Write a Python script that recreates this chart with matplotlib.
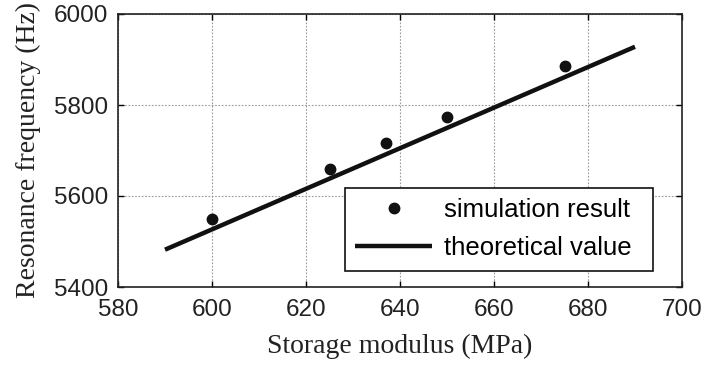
import numpy as np
import matplotlib
matplotlib.use("Agg")
import matplotlib.pyplot as plt

# simulation points
modulus_sim = [600, 625, 637, 650, 675]
freq_sim = [5549, 5659, 5717, 5774, 5885]

# theoretical line end points
modulus_theory = [590, 690]
freq_theory = [5482, 5928]

x_ticks = [580, 600, 620, 640, 660, 680, 700]
y_ticks = [5400, 5600, 5800, 6000]

fig = plt.figure(figsize=(7.04, 3.65), dpi=100)
ax = fig.add_axes([118 / 704, 1 - 287 / 365, 564 / 704, 273 / 365])

ax.plot(modulus_theory, freq_theory, color="#111111", linewidth=3.2,
        solid_capstyle="butt", label="theoretical value", zorder=3)
ax.plot(modulus_sim, freq_sim, "o", color="#111111", markersize=7.5,
        label="simulation result", zorder=4)

ax.set_xlim(580, 700)
ax.set_ylim(5400, 6000)
ax.set_xticks(x_ticks)
ax.set_yticks(y_ticks)
ax.grid(True, color="#999999", linestyle=(0, (1.5, 1.5)), linewidth=0.8)
ax.tick_params(direction="in", top=True, right=True, length=4, width=1,
               labelsize=17.5)
ax.tick_params(axis="x", pad=9)
ax.tick_params(axis="y", pad=7)
for lab in ax.get_xticklabels() + ax.get_yticklabels():
    lab.set_family("Liberation Sans")
    lab.set_color("#222222")
for sp in ax.spines.values():
    sp.set_linewidth(1.2)
    sp.set_color("#222222")

ax.set_xlabel("Storage modulus (MPa)", family="Liberation Serif", fontsize=20,
              labelpad=9, color="#222222")
ax.set_ylabel("Resonance frequency (Hz)", family="Liberation Serif", fontsize=20,
              labelpad=9, color="#222222")

handles, labels = ax.get_legend_handles_labels()
leg = ax.legend(handles[::-1], labels[::-1], loc="lower left",
                bbox_to_anchor=(0.402, 0.06, 0.546, 0.3065), mode="expand",
                prop={"family": "Liberation Sans", "size": 18.5},
                fancybox=False, framealpha=1, edgecolor="#111111",
                handlelength=3.0, borderpad=0.4, labelspacing=0.55,
                handletextpad=0.45, borderaxespad=0)
leg.get_frame().set_linewidth(1.2)

fig.savefig("out.png", dpi=100)
